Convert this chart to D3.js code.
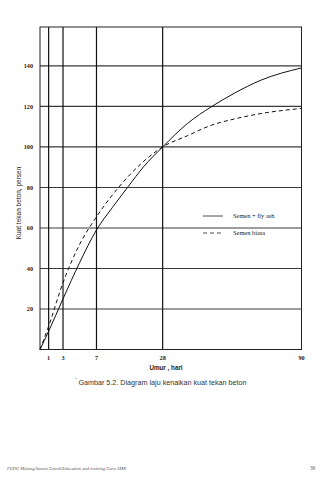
<!DOCTYPE html>
<html>
<head>
<meta charset="utf-8">
<script src="https://cdn.jsdelivr.net/npm/d3@7"></script>
<style>
  html, body { margin: 0; padding: 0; background: #fff; }
  svg { display: block; }
</style>
</head>
<body>
<svg id="chart" width="326" height="480"></svg>
<script>
// Age in days at which the vertical reference lines and x labels sit
const ageTicks = [1, 3, 7, 28, 90];
// Strength gridlines (percent)
const strengthTicks = [20, 40, 60, 80, 100, 120, 140];

// Semen + fly ash
const flyAshDays   = [0, 1, 3, 5, 7, 12, 17, 22, 28, 39, 50, 60, 72, 90];
const flyAshValues = [0, 9, 25, 43, 59, 70, 80.3, 90.3, 100, 111.5, 120, 126.5, 133, 139];

// Semen biasa
const plainDays   = [0, 1, 3, 5, 7, 14, 21, 28, 39, 50, 60, 72, 90];
const plainValues = [0, 11.5, 33, 52, 65.5, 80, 91.5, 100, 105.5, 110.8, 113.8, 116.5, 119];

const seriesNames = ["Semen + fly ash", "Semen biasa"];

const svg = d3.select("#chart");
const plotLeft = 40, plotRight = 301.5, plotTop = 27, plotBottom = 349.5;
const W = plotRight - plotLeft;

// Age axis is stretched unevenly between the marked ages
const x = d3.scaleLinear()
  .domain([0, 1, 3, 7, 28, 90])
  .range([0, 0.033, 0.088, 0.216, 0.469, 1].map(f => plotLeft + f * W));
const y = d3.scaleLinear().domain([0, 159.2]).range([plotBottom, plotTop]);

const g = svg.append("g");

// horizontal gridlines
g.selectAll("line.h").data(strengthTicks).join("line")
  .attr("x1", plotLeft).attr("x2", plotRight)
  .attr("y1", d => y(d)).attr("y2", d => y(d))
  .attr("stroke", "#3a3a3a").attr("stroke-width", 1.1);

// vertical reference lines
g.selectAll("line.v").data(ageTicks.slice(0, 4)).join("line")
  .attr("x1", d => x(d)).attr("x2", d => x(d))
  .attr("y1", plotTop).attr("y2", plotBottom)
  .attr("stroke", "#111").attr("stroke-width", 1.2);

// frame
g.append("rect")
  .attr("x", plotLeft).attr("y", plotTop).attr("width", W).attr("height", plotBottom - plotTop)
  .attr("fill", "none").attr("stroke", "#222").attr("stroke-width", 1);

// y tick labels
g.selectAll("text.yt").data(strengthTicks).join("text")
  .attr("x", 33).attr("y", d => y(d)).attr("dy", "0.35em")
  .attr("text-anchor", "end")
  .attr("font-family", "Liberation Serif, serif").attr("font-weight", "bold")
  .attr("font-size", 6.2).attr("fill", "#222")
  .text(d => d);

// x tick labels
g.selectAll("text.xt").data(ageTicks).join("text")
  .attr("x", d => x(d)).attr("y", 359.5)
  .attr("text-anchor", "middle")
  .attr("font-family", "Liberation Serif, serif").attr("font-weight", "bold")
  .attr("font-size", 6.2).attr("fill", "#222")
  .text(d => d);

// axis titles
g.append("text").attr("x", 166).attr("y", 370)
  .attr("text-anchor", "middle")
  .attr("font-family", "Liberation Sans, Arial, sans-serif").attr("font-weight", "bold")
  .attr("font-size", 6.3).attr("fill", "#222")
  .text("Umur , hari");

g.append("text")
  .attr("transform", "translate(21,203) rotate(-90)")
  .attr("text-anchor", "middle")
  .attr("font-family", "Liberation Sans, Arial, sans-serif")
  .attr("font-size", 6.5).attr("fill", "#222")
  .text("Kuat tekan beton, persen");

// curves
const line = d3.line().x(d => x(d[0])).y(d => y(d[1])).curve(d3.curveMonotoneX);
const flyAsh = flyAshDays.map((d, i) => [d, flyAshValues[i]]);
const plain = plainDays.map((d, i) => [d, plainValues[i]]);

g.append("path").datum(flyAsh).attr("d", line)
  .attr("fill", "none").attr("stroke", "#111").attr("stroke-width", 1);
g.append("path").datum(plain).attr("d", line)
  .attr("fill", "none").attr("stroke", "#111").attr("stroke-width", 1)
  .attr("stroke-dasharray", "4,3");

// legend
const legend = g.append("g");
const legY = [216, 233];
legend.selectAll("line").data(seriesNames).join("line")
  .attr("x1", 203).attr("x2", 223)
  .attr("y1", (d, i) => legY[i]).attr("y2", (d, i) => legY[i])
  .attr("stroke", "#222").attr("stroke-width", 0.8)
  .attr("stroke-dasharray", (d, i) => i ? "4,3" : null);
legend.selectAll("text").data(seriesNames).join("text")
  .attr("x", 233).attr("y", (d, i) => legY[i]).attr("dy", "0.35em")
  .attr("font-family", "Liberation Serif, serif")
  .attr("font-size", 6.4).attr("fill", "#222")
  .text(d => d);

// caption
svg.append("text").attr("x", 162.5).attr("y", 384.5)
  .attr("text-anchor", "middle")
  .attr("font-family", "Liberation Sans, Arial, sans-serif")
  .attr("font-size", 7.2).attr("fill", "#333")
  .text("Gambar 5.2. Diagram laju kenaikan kuat tekan beton");
svg.append("circle").attr("cx", 76).attr("cy", 378.5).attr("r", 0.6).attr("fill", "#777");

// page footer
svg.append("text").attr("x", 7).attr("y", 469.5)
  .attr("font-family", "Liberation Serif, serif").attr("font-style", "italic")
  .attr("font-size", 4.6).attr("fill", "#555")
  .text("FEDC Malang/Semen Gresik/Education and training Guru SMK");
svg.append("text").attr("x", 310).attr("y", 469.5)
  .attr("font-family", "Liberation Serif, serif")
  .attr("font-size", 5.2).attr("fill", "#555")
  .text("39");
</script>
</body>
</html>
